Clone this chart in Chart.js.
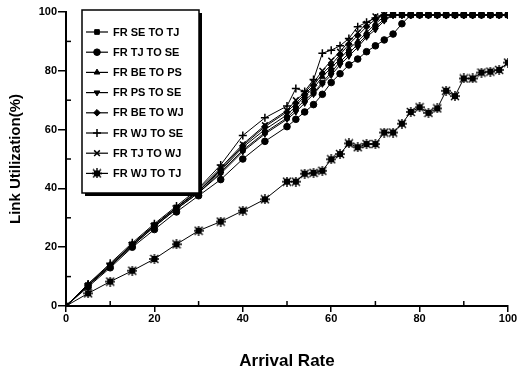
<!DOCTYPE html>
<html>
<head>
<meta charset="utf-8">
<script src="https://cdn.jsdelivr.net/npm/chart.js@4/dist/chart.umd.min.js"></script>
<style>
  html, body { margin: 0; padding: 0; background: #fff; }
  #wrap { width: 519px; height: 374px; }
</style>
</head>
<body>
<div id="wrap"><canvas id="c" width="519" height="374"></canvas></div>
<script>
// ---- Data ----
const arrivalRate = [0,5,10,15,20,25,30,35,40,45,50,52,54,56,58,60,62,64,66,68,70,72,74,76,78,80,82,84,86,88,90,92,94,96,98,100];

const seLabels = ['FR SE TO TJ','FR TJ TO SE','FR BE TO PS','FR PS TO SE','FR BE TO WJ','FR WJ TO SE','FR TJ TO WJ','FR WJ TO TJ'];

const frSEtoTJ = [0,7,13.5,20.5,27,33,38.5,45.5,53,59,64,67,70,72.5,76,79.5,83,86,89,92,95,97.5,99,99,99,99,99,99,99,99,99,99,99,99,99,99];
const frTJtoSE = [0,6.5,13,20,26,32,37.5,43,50,56,61,63.5,66,68.5,72,76,79,82,84,86.5,88.5,90.5,92.5,96,99,99,99,99,99,99,99,99,99,99,99,99];
const frBEtoPS = [0,7.5,14,21,27.5,33.5,39,46,54,60,65,68,71.5,74,78,81,84,87.5,90,93,96,98.5,99,99,99,99,99,99,99,99,99,99,99,99,99,99];
const frPStoSE = [0,7,13.5,20.5,27,33,38.5,45,52.5,58.5,63.5,66,69,72,75.5,78.5,82,85,88,91.5,94,97,99,99,99,99,99,99,99,99,99,99,99,99,99,99];
const frBEtoWJ = [0,7,14,21,27.5,33.5,39,46.5,54.5,61,66,69,72,75,79,82,85.5,89,92,95,97.5,99,99,99,99,99,99,99,99,99,99,99,99,99,99,99];
const frWJtoSE = [0,7.5,14.5,21.5,28,34,40,48,58,64,68,74,73,77,86,87,88.5,91,95,96.5,98,99,99,99,99,99,99,99,99,99,99,99,99,99,99,99];
const frTJtoWJ = [0,7,13.5,21,27.5,33.5,39.5,47,55,61.5,66.5,70,72.5,76,80,83.5,86.5,90,93,96,98.5,99,99,99,99,99,99,99,99,99,99,99,99,99,99,99];
const frWJtoTJ = [0,4.3,8.3,12,16,21,25.6,28.7,32.4,36.3,42.3,42.3,45,45.3,46,49.9,51.7,55.3,54,55.1,55.1,59,59,62,66,67.6,65.7,67.2,73.2,71.4,77.4,77.4,79.4,79.7,80.3,82.8];

const majorTicks = [0,20,40,60,80,100];
const minorTicks = [10,30,50,70,90];

const seriesValues = [frSEtoTJ, frTJtoSE, frBEtoPS, frPStoSE, frBEtoWJ, frWJtoSE, frTJtoWJ, frWJtoTJ];

// asterisk-on-square marker image
function makeStarBox() {
  const c = document.createElement('canvas');
  c.width = 10; c.height = 10;
  const g = c.getContext('2d');
  g.fillStyle = '#000';
  g.fillRect(2, 2, 6, 6);
  g.strokeStyle = '#000';
  g.lineWidth = 1.4;
  g.beginPath();
  g.moveTo(5, 0); g.lineTo(5, 10);
  g.moveTo(0, 5); g.lineTo(10, 5);
  g.moveTo(1, 1); g.lineTo(9, 9);
  g.moveTo(9, 1); g.lineTo(1, 9);
  g.stroke();
  return c;
}
const starBox = makeStarBox();

const markerStyles = ['rect','circle','triangle','triangle','rectRot','cross','crossRot', starBox];
const markerRotation = [0,0,0,180,0,0,0,0];

Chart.defaults.font.family = "'Liberation Sans', Arial, sans-serif";
Chart.defaults.color = '#000';

const datasets = seriesValues.map((vals, i) => ({
  label: seLabels[i],
  data: arrivalRate.map((x, j) => ({x: x, y: vals[j]})),
  borderColor: '#000',
  backgroundColor: '#000',
  borderWidth: 1,
  pointStyle: markerStyles[i],
  rotation: markerRotation[i],
  pointRadius: (markerStyles[i] === 'cross' || markerStyles[i] === 'crossRot') ? 4 : 3.3,
  pointBorderWidth: (markerStyles[i] === 'cross' || markerStyles[i] === 'crossRot') ? 1.5 : 1,
  pointBackgroundColor: '#000',
  pointBorderColor: '#000',
  tension: 0
}));

const minorTickPlugin = {
  id: 'minorTicks',
  afterDraw(chart) {
    const ctx = chart.ctx;
    const xs = chart.scales.x, ys = chart.scales.y;
    const area = chart.chartArea;
    ctx.save();
    ctx.strokeStyle = '#000';
    ctx.lineWidth = 1.5;
    minorTicks.forEach(v => {
      const px = xs.getPixelForValue(v);
      ctx.beginPath(); ctx.moveTo(px, area.bottom); ctx.lineTo(px, area.bottom - 5); ctx.stroke();
      const py = ys.getPixelForValue(v);
      ctx.beginPath(); ctx.moveTo(area.left, py); ctx.lineTo(area.left + 5, py); ctx.stroke();
    });
    ctx.restore();
  }
};

const legendPlugin = {
  id: 'boxLegend',
  afterDatasetsDraw(chart) {
    const ctx = chart.ctx;
    const bx = 82, by = 10, bw = 117, bh = 183;
    ctx.save();
    ctx.fillStyle = '#000';
    ctx.fillRect(bx + 3, by + 3, bw, bh);
    ctx.fillStyle = '#fff';
    ctx.fillRect(bx, by, bw, bh);
    ctx.strokeStyle = '#000';
    ctx.lineWidth = 1.5;
    ctx.strokeRect(bx, by, bw, bh);
    ctx.font = "bold 11px 'Liberation Sans', Arial, sans-serif";
    ctx.textBaseline = 'middle';
    ctx.textAlign = 'left';
    chart.data.datasets.forEach((ds, i) => {
      const y = 32 + i * 20.2;
      ctx.strokeStyle = '#000';
      ctx.lineWidth = 1.2;
      ctx.beginPath(); ctx.moveTo(86, y); ctx.lineTo(108, y); ctx.stroke();
      ctx.fillStyle = '#000';
      ctx.lineWidth = ds.pointBorderWidth;
      Chart.helpers.drawPoint(ctx, {
        pointStyle: ds.pointStyle,
        rotation: ds.rotation,
        radius: ds.pointRadius,
        borderWidth: ds.pointBorderWidth
      }, 97, y);
      ctx.fillStyle = '#000';
      ctx.fillText(ds.label, 113, y + 0.5);
    });
    ctx.restore();
  }
};

new Chart(document.getElementById('c'), {
  type: 'line',
  data: { datasets: datasets },
  options: {
    responsive: false,
    animation: false,
    layout: { padding: { top: 12, right: 11, left: 0, bottom: 0 } },
    plugins: { legend: { display: false }, tooltip: { enabled: false } },
    scales: {
      x: {
        type: 'linear', min: 0, max: 100,
        afterFit(s) { s.height = 68; },
        afterBuildTicks(s) { s.ticks = majorTicks.map(v => ({value: v})); },
        ticks: { font: { size: 11, weight: 'bold' }, padding: 0, color: '#000', maxRotation: 0 },
        grid: { display: true, drawOnChartArea: false, drawTicks: true, tickLength: 6, color: '#000', lineWidth: 1.5 },
        border: { display: true, color: '#000', width: 2 },
        title: { display: true, text: 'Arrival Rate', font: { size: 17, weight: 'bold' }, padding: { top: 0, bottom: 2 }, color: '#000' }
      },
      y: {
        type: 'linear', min: 0, max: 100,
        afterFit(s) { s.width = 66; },
        afterBuildTicks(s) { s.ticks = majorTicks.map(v => ({value: v})); },
        ticks: { font: { size: 11, weight: 'bold' }, padding: 1, color: '#000' },
        grid: { display: true, drawOnChartArea: false, drawTicks: true, tickLength: 8, color: '#000', lineWidth: 1.5 },
        border: { display: true, color: '#000', width: 2 },
        title: { display: true, text: 'Link Utilization(%)', font: { size: 15, weight: 'bold' }, padding: { top: 7, bottom: 0 }, color: '#000' }
      }
    }
  },
  plugins: [minorTickPlugin, legendPlugin]
});
</script>
</body>
</html>
